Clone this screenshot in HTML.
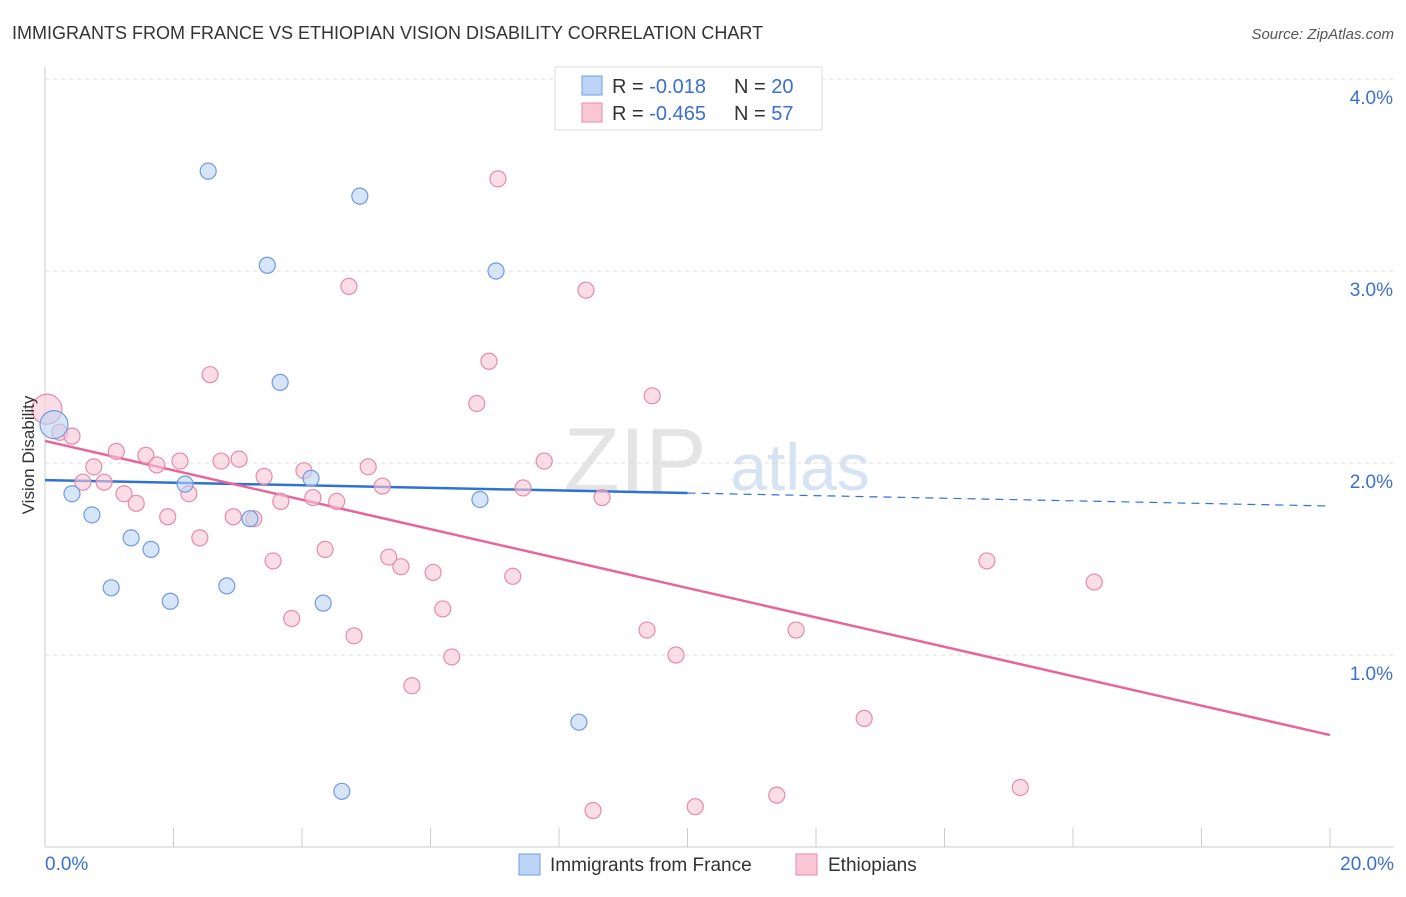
<!DOCTYPE html>
<html><head><meta charset="utf-8"><style>
body{margin:0;background:#fff;font-family:"Liberation Sans",sans-serif;}
svg text{font-family:"Liberation Sans",sans-serif;}
</style></head><body>
<svg id="chart" width="1406" height="892" viewBox="0 0 1406 892">
<text x="12" y="39" font-size="18" fill="#333">IMMIGRANTS FROM FRANCE VS ETHIOPIAN VISION DISABILITY CORRELATION CHART</text>
<text x="1394" y="39" font-size="15" fill="#555" text-anchor="end" font-style="italic">Source: ZipAtlas.com</text>
<g><text x="635" y="492" font-size="92" fill="#e4e4e4" text-anchor="middle" font-family="Liberation Serif,serif">ZIP</text><text x="800" y="490" font-size="66" fill="#d6e3f3" text-anchor="middle">atlas</text></g>
<g id="grid"></g><g id="axes"></g><g id="trends"></g><g id="points"></g>
<text transform="translate(34,455) rotate(-90)" font-size="17" fill="#333" text-anchor="middle">Vision Disability</text>
<g>
<rect x="555" y="67" width="267" height="63" fill="#fff" stroke="#ddd"/>
<rect x="582" y="76" width="20" height="19" fill="#bcd4f5" stroke="#6f9be0"/>
<rect x="582" y="103" width="20" height="19" fill="#f9c6d6" stroke="#e88aa8"/>
<text x="612" y="93" font-size="20" fill="#333">R = <tspan fill="#3b6fd0">-0.018</tspan><tspan x="734">N = </tspan><tspan fill="#3b6fd0">20</tspan></text>
<text x="612" y="120" font-size="20" fill="#333">R = <tspan fill="#3b6fd0">-0.465</tspan><tspan x="734">N = </tspan><tspan fill="#3b6fd0">57</tspan></text>
</g>
<g>
<rect x="519" y="854" width="21" height="21" fill="#bcd4f5" stroke="#6f9be0"/>
<text x="550" y="871" font-size="19" fill="#333">Immigrants from France</text>
<rect x="796" y="854" width="21" height="21" fill="#f9c6d6" stroke="#e88aa8"/>
<text x="828" y="871" font-size="19" fill="#333">Ethiopians</text>
</g>
</svg>
<script>
const yTicks=[1,2,3,4];
const yTickLabels=["1.0%","2.0%","3.0%","4.0%"];
const xTickLabels=["0.0%","20.0%"];
const franceX=[2.54,4.90,3.46,7.02,3.66,0.14,0.42,0.73,1.34,1.65,1.03,1.95,2.83,2.18,4.14,3.19,4.33,6.77,8.31,4.62];
const franceY=[3.52,3.39,3.03,3.00,2.42,2.20,1.84,1.73,1.61,1.55,1.35,1.28,1.36,1.89,1.92,1.71,1.27,1.81,0.65,0.29];
const ethX=[7.05,4.73,8.42,6.91,2.57,9.45,6.72,0.03,0.23,0.42,1.11,0.76,1.57,1.74,2.10,2.74,3.02,4.03,5.03,7.77,0.59,0.92,1.23,2.24,3.41,5.25,7.44,4.17,4.54,3.67,1.42,1.91,2.93,3.25,8.67,2.41,4.36,3.55,5.35,5.54,6.04,7.28,14.66,16.33,6.19,3.84,4.81,9.37,11.69,6.33,9.82,5.71,12.75,15.18,11.39,10.12,8.53];
const ethY=[3.48,2.92,2.90,2.53,2.46,2.35,2.31,2.28,2.16,2.14,2.06,1.98,2.04,1.99,2.01,2.01,2.02,1.96,1.98,2.01,1.90,1.90,1.84,1.84,1.93,1.88,1.87,1.82,1.80,1.80,1.79,1.72,1.72,1.71,1.82,1.61,1.55,1.49,1.51,1.46,1.43,1.41,1.49,1.38,1.24,1.19,1.10,1.13,1.13,0.99,1.00,0.84,0.67,0.31,0.27,0.21,0.19];
const franceTrend=[1.911,1.776];
const ethTrend=[2.115,0.583];
const NS="http://www.w3.org/2000/svg";
const sx=v=>45+v/20*1285, sy=v=>847-v*192;
function mk(tag,parent,attrs){const e=document.createElementNS(NS,tag);for(const k in attrs)e.setAttribute(k,attrs[k]);document.getElementById(parent).appendChild(e);return e;}
yTicks.forEach((t,i)=>{
 const l=mk('line','grid',{x1:45,x2:1394,y1:sy(t),y2:sy(t),stroke:'#ddd','stroke-dasharray':'4,4'});
 
 
 const tx=mk('text','grid',{x:1393,y:sy(t)+25,'font-size':19,fill:'#3b6fd0','text-anchor':'end'});tx.textContent=yTickLabels[i];
 
 
});
const topG=mk('line','grid',{x1:45,x2:1394,y1:79,y2:79,stroke:'#ddd','stroke-dasharray':'4,4'});
const ax=mk('line','axes',{x1:45,x2:45,y1:67,y2:847,stroke:'#ccc'});


const bx=mk('line','axes',{x1:45,x2:1394,y1:847,y2:847,stroke:'#ccc'});


for(let i=0;i<=10;i++){const t=mk('line','axes',{x1:sx(i*2),x2:sx(i*2),y1:828,y2:847,stroke:'#ccc'});
 
 }
xTickLabels.forEach((s,i)=>{const t=mk('text','axes',{x:i?1394:45,y:870,'font-size':19,fill:'#3b6fd0','text-anchor':i?'end':'start'});t.textContent=s;
 
 });
const f1=mk('line','trends',{x1:sx(0),y1:sy(franceTrend[0]),x2:sx(10),y2:sy((franceTrend[0]+franceTrend[1])/2),stroke:'#2f72d6','stroke-width':2.5});


const f2=mk('line','trends',{x1:sx(10),y1:sy((franceTrend[0]+franceTrend[1])/2),x2:sx(20),y2:sy(franceTrend[1]),stroke:'#2f72d6','stroke-width':1.2,'stroke-dasharray':'8,6'});


const e1=mk('line','trends',{x1:sx(0),y1:sy(ethTrend[0]),x2:sx(20),y2:sy(ethTrend[1]),stroke:'#e8659a','stroke-width':2.5});


ethX.forEach((x,i)=>{const c=mk('circle','points',{cx:sx(x),cy:sy(ethY[i]),r:i===7?15:8,fill:'#f9c6d6','fill-opacity':0.6,stroke:'#e88aa8','stroke-width':1.2});
 
 });
franceX.forEach((x,i)=>{const c=mk('circle','points',{cx:sx(x),cy:sy(franceY[i]),r:i===5?14:8,fill:'#bcd4f5','fill-opacity':0.6,stroke:'#6f9be0','stroke-width':1.2});
 
 });
</script>
</body></html>
